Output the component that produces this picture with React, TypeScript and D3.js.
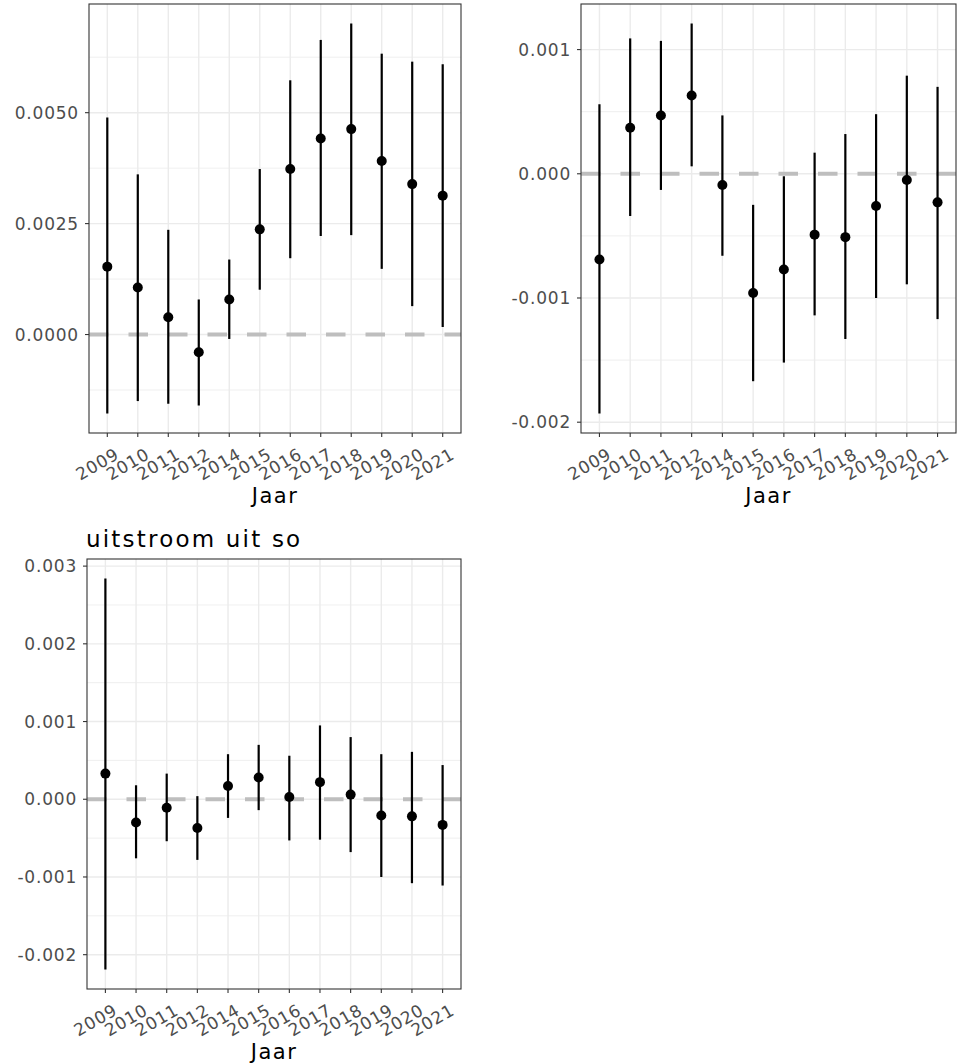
import React, { useEffect, useRef } from "react";
import * as d3 from "d3";

const years = ["2009", "2010", "2011", "2012", "2014", "2015", "2016", "2017", "2018", "2019", "2020", "2021"];

// paneel linksboven
const estA = [0.00153, 0.00106, 0.00039, -0.0004, 0.00079, 0.00237, 0.00373, 0.00442, 0.00463, 0.00391, 0.00339, 0.00313];
const lowA = [-0.00178, -0.0015, -0.00156, -0.0016, -0.0001, 0.00101, 0.00172, 0.00222, 0.00224, 0.00148, 0.00064, 0.00017];
const highA = [0.00489, 0.00361, 0.00236, 0.00079, 0.00169, 0.00373, 0.00573, 0.00664, 0.00701, 0.00633, 0.00615, 0.00609];
const ticksA = [0, 0.0025, 0.005];

// paneel rechtsboven
const estB = [-0.00069, 0.00037, 0.00047, 0.00063, -0.00009, -0.00096, -0.00077, -0.00049, -0.00051, -0.00026, -0.00005, -0.00023];
const lowB = [-0.00193, -0.00034, -0.00013, 0.00006, -0.00066, -0.00167, -0.00152, -0.00114, -0.00133, -0.001, -0.00089, -0.00117];
const highB = [0.00056, 0.00109, 0.00107, 0.00121, 0.00047, -0.00025, -0.00002, 0.00017, 0.00032, 0.00048, 0.00079, 0.0007];
const ticksB = [-0.002, -0.001, 0, 0.001];

// uitstroom uit so
const estC = [0.00033, -0.0003, -0.00011, -0.00037, 0.00017, 0.00028, 0.00003, 0.00022, 0.00006, -0.00021, -0.00022, -0.00033];
const lowC = [-0.00219, -0.00076, -0.00054, -0.00078, -0.00024, -0.00014, -0.00053, -0.00052, -0.00068, -0.001, -0.00108, -0.00111];
const highC = [0.00284, 0.00018, 0.00033, 0.00004, 0.00058, 0.0007, 0.00056, 0.00095, 0.0008, 0.00058, 0.00061, 0.00044];
const ticksC = [-0.002, -0.001, 0, 0.001, 0.002, 0.003];

const FONT = "DejaVu Sans, Verdana, sans-serif";

const panels = [
  { est: estA, low: lowA, high: highA, ticks: ticksA, digits: 4, title: "", x0: 89, x1: 461, y0: 4, y1: 433 },
  { est: estB, low: lowB, high: highB, ticks: ticksB, digits: 3, title: "", x0: 581, x1: 956, y0: 4, y1: 433 },
  { est: estC, low: lowC, high: highC, ticks: ticksC, digits: 3, title: "uitstroom uit so", x0: 87, x1: 461, y0: 559, y1: 989 },
];

const App = () => {
  const ref = useRef<SVGSVGElement | null>(null);

  useEffect(() => {
    const svg = d3.select(ref.current);
    svg.selectAll("*").remove();
    svg.append("rect").attr("width", 961).attr("height", 1063).attr("fill", "white");

    panels.forEach((p) => {
      // ggplot: 0.6 eenheid marge aan elke kant van de discrete as
      const step = (p.x1 - p.x0) / (years.length - 1 + 1.2);
      const xPos = (i: number) => p.x0 + step * (0.6 + i);

      const lo = d3.min(p.low) as number;
      const hi = d3.max(p.high) as number;
      const pad = (hi - lo) * 0.05;
      const y = d3.scaleLinear().domain([lo - pad, hi + pad]).range([p.y1, p.y0]);

      const g = svg.append("g");
      const major = p.ticks[1] - p.ticks[0];
      const minor = d3.range(p.ticks[0] - major / 2, hi + pad, major).filter((v) => v > lo - pad);

      g.selectAll(".minor")
        .data(minor)
        .join("line")
        .attr("x1", p.x0)
        .attr("x2", p.x1)
        .attr("y1", (d) => y(d))
        .attr("y2", (d) => y(d))
        .attr("stroke", "#EBEBEB")
        .attr("stroke-width", 0.8);

      g.selectAll(".major")
        .data(p.ticks)
        .join("line")
        .attr("x1", p.x0)
        .attr("x2", p.x1)
        .attr("y1", (d) => y(d))
        .attr("y2", (d) => y(d))
        .attr("stroke", "#EBEBEB")
        .attr("stroke-width", 1.4);

      g.selectAll(".vgrid")
        .data(years)
        .join("line")
        .attr("x1", (d, i) => xPos(i))
        .attr("x2", (d, i) => xPos(i))
        .attr("y1", p.y0)
        .attr("y2", p.y1)
        .attr("stroke", "#EBEBEB")
        .attr("stroke-width", 1.4);

      g.append("line")
        .attr("x1", p.x0)
        .attr("x2", p.x1)
        .attr("y1", y(0))
        .attr("y2", y(0))
        .attr("stroke", "#BEBEBE")
        .attr("stroke-width", 4)
        .attr("stroke-dasharray", "19.5,20");

      g.selectAll(".bar")
        .data(years)
        .join("line")
        .attr("x1", (d, i) => xPos(i))
        .attr("x2", (d, i) => xPos(i))
        .attr("y1", (d, i) => y(p.low[i]))
        .attr("y2", (d, i) => y(p.high[i]))
        .attr("stroke", "black")
        .attr("stroke-width", 2.2);

      g.selectAll(".pt")
        .data(years)
        .join("circle")
        .attr("cx", (d, i) => xPos(i))
        .attr("cy", (d, i) => y(p.est[i]))
        .attr("r", 5)
        .attr("fill", "black");

      g.append("rect")
        .attr("x", p.x0)
        .attr("y", p.y0)
        .attr("width", p.x1 - p.x0)
        .attr("height", p.y1 - p.y0)
        .attr("fill", "none")
        .attr("stroke", "#333333")
        .attr("stroke-width", 1.1);

      // y-as
      g.selectAll(".ytick")
        .data(p.ticks)
        .join("line")
        .attr("x1", p.x0 - 4)
        .attr("x2", p.x0)
        .attr("y1", (d) => y(d))
        .attr("y2", (d) => y(d))
        .attr("stroke", "#333333")
        .attr("stroke-width", 1.1);

      g.selectAll(".ylab")
        .data(p.ticks)
        .join("text")
        .attr("x", p.x0 - 10)
        .attr("y", (d) => y(d))
        .attr("dy", "0.36em")
        .attr("text-anchor", "end")
        .attr("font-family", FONT)
        .attr("font-size", 17)
        .attr("letter-spacing", 0.8)
        .attr("fill", "#4D4D4D")
        .text((d) => d3.format(`.${p.digits}f`)(d).replace("−", "-"));

      // x-as
      g.selectAll(".xtick")
        .data(years)
        .join("line")
        .attr("x1", (d, i) => xPos(i))
        .attr("x2", (d, i) => xPos(i))
        .attr("y1", p.y1)
        .attr("y2", p.y1 + 4)
        .attr("stroke", "#333333")
        .attr("stroke-width", 1.1);

      g.selectAll(".xlab")
        .data(years)
        .join("text")
        .attr("transform", (d, i) => `translate(${xPos(i) + 7},${p.y1 + 14}) rotate(-30)`)
        .attr("dy", "0.72em")
        .attr("text-anchor", "end")
        .attr("font-family", FONT)
        .attr("font-size", 17)
        .attr("letter-spacing", 0.8)
        .attr("fill", "#4D4D4D")
        .text((d) => d);

      g.append("text")
        .attr("x", (p.x0 + p.x1) / 2)
        .attr("y", p.y1 + 70)
        .attr("text-anchor", "middle")
        .attr("font-family", FONT)
        .attr("font-size", 21)
        .attr("letter-spacing", 1.5)
        .attr("fill", "black")
        .text("Jaar");

      if (p.title) {
        g.append("text")
          .attr("x", p.x0 - 1)
          .attr("y", p.y0 - 12)
          .attr("font-family", FONT)
          .attr("font-size", 23)
          .attr("letter-spacing", 2.2)
          .attr("fill", "black")
          .text(p.title);
      }
    });
  }, []);

  return (
    <div style={{ position: "absolute", left: 0, top: 0 }}>
      <svg ref={ref} width={961} height={1063} />
    </div>
  );
};

export default App;
